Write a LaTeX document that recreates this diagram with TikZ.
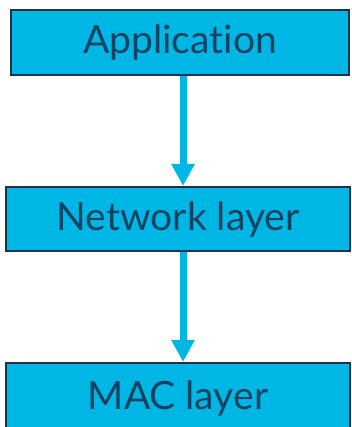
\documentclass[tikz,border=0pt]{standalone}
\usepackage{fontspec}
\setmainfont{Lato}[Ligatures=NoCommon]
\usetikzlibrary{arrows.meta}
\definecolor{layerfill}{HTML}{00B6E4}
\definecolor{layeredge}{HTML}{1B3442}
\definecolor{layertext}{HTML}{0D4360}
\tikzset{
  layer/.style={draw=layeredge, line width=2pt, fill=layerfill, text=layertext,
    inner sep=0pt, minimum width=344pt, font=\fontsize{39}{44}\selectfont},
  flow/.style={draw=layerfill, line width=7pt,
    -{Triangle[width=22pt,length=22pt]}}
}
\begin{document}
\begin{tikzpicture}[x=1pt,y=-1pt]
  \useasboundingbox (0,0) rectangle (351,427);
  \clip (0,0) rectangle (351,427);
  \node[layer, minimum width=338pt, minimum height=65pt] (app) at (180,42.5) {Application};
  \node[layer, minimum height=64pt] (net) at (178,219) {Network layer};
  \node[layer, minimum height=70pt] (mac) at (178,398) {MAC layer};
  \coordinate (axis) at (183,0);
  \draw[flow] (app.south -| axis) -- (net.north -| axis);
  \draw[flow] (net.south -| axis) -- (mac.north -| axis);
\end{tikzpicture}
\end{document}
